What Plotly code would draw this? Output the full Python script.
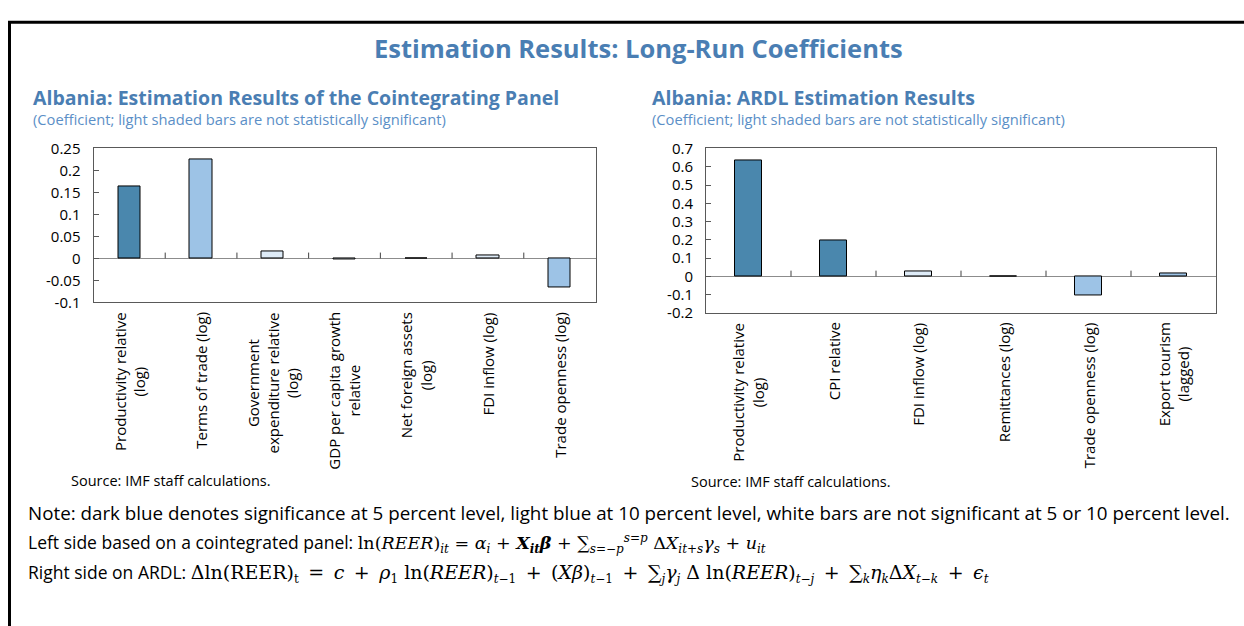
import plotly.graph_objects as go

# ---------------------------------------------------------------- data
left_labels = [
    "Productivity relative<br>(log)",
    "Terms of trade (log)",
    "Government<br>expenditure relative<br>(log)",
    "GDP per capita growth<br>relative",
    "Net foreign assets<br>(log)",
    "FDI inflow (log)",
    "Trade openness (log)",
]
left_values = [0.163, 0.2255, 0.016, -0.002, 0.001, 0.006, -0.065]
left_signif = ["5%", "10%", "none", "none", "none", "none", "10%"]
left_ticks = [-0.1, -0.05, 0, 0.05, 0.1, 0.15, 0.2, 0.25]
left_ticktext = ["-0.1", "-0.05", "0", "0.05", "0.1", "0.15", "0.2", "0.25"]

right_labels = [
    "Productivity relative<br>(log)",
    "CPI relative",
    "FDI inflow (log)",
    "Remittances (log)",
    "Trade openness (log)",
    "Export tourism<br>(lagged)",
]
right_values = [0.636, 0.199, 0.027, 0.0, -0.104, 0.018]
right_signif = ["5%", "5%", "none", "none", "10%", "10%"]
right_ticks = [-0.2, -0.1, 0, 0.1, 0.2, 0.3, 0.4, 0.5, 0.6, 0.7]
right_ticktext = ["-0.2", "-0.1", "0", "0.1", "0.2", "0.3", "0.4", "0.5", "0.6", "0.7"]

# ---------------------------------------------------------------- style
W, H = 1244, 626
FONT = "Open Sans"
TITLE_BLUE = "#4A7EB3"
SUB_BLUE = "#5B8FC7"
SIG_COLORS = {"5%": "#4A87AD", "10%": "#9DC3E6", "none": "#DEEBF7"}


def px(x):
    return x / W


def py(y):
    return 1 - y / H


# plot-area boxes in pixels: (left, top, right, bottom)
LEFT_BOX = (93.5, 142, 595.5, 301)
RIGHT_BOX = (706, 142, 1216, 312)

fig = go.Figure()

fig.add_trace(go.Bar(
    x=left_labels, y=left_values, width=0.31,
    marker=dict(color=[SIG_COLORS[s] for s in left_signif],
                line=dict(color="#000000", width=1)),
    xaxis="x", yaxis="y", showlegend=False, hoverinfo="x+y",
))
fig.add_trace(go.Bar(
    x=right_labels, y=right_values, width=0.32,
    marker=dict(color=[SIG_COLORS[s] for s in right_signif],
                line=dict(color="#000000", width=1)),
    xaxis="x2", yaxis="y2", showlegend=False, hoverinfo="x+y",
))

common_x = dict(
    type="category", showticklabels=False, ticks="", showgrid=False,
    showline=True, mirror=True, linecolor="#595959", linewidth=1,
    zeroline=False, fixedrange=True,
)
common_y = dict(
    showgrid=False, showline=True, mirror=True, linecolor="#595959",
    linewidth=1, ticks="inside", ticklen=5, tickcolor="#595959",
    zeroline=True, zerolinecolor="#8C8C8C", zerolinewidth=1,
    tickfont=dict(family=FONT, size=15, color="#000000"),
    ticklabelstandoff=9, fixedrange=True,
)

fig.update_layout(
    width=W, height=H,
    margin=dict(l=0, r=0, t=0, b=0),
    paper_bgcolor="white", plot_bgcolor="white",
    bargap=0,
    xaxis=dict(common_x, domain=[px(LEFT_BOX[0]), px(LEFT_BOX[2])],
               range=[-0.5, len(left_labels) - 0.5], anchor="y"),
    yaxis=dict(common_y, domain=[py(LEFT_BOX[3]), py(LEFT_BOX[1])],
               range=[left_ticks[0], left_ticks[-1]],
               tickvals=left_ticks, ticktext=left_ticktext, anchor="x"),
    xaxis2=dict(common_x, domain=[px(RIGHT_BOX[0]), px(RIGHT_BOX[2])],
                range=[-0.5, len(right_labels) - 0.5], anchor="y2"),
    yaxis2=dict(common_y, domain=[py(RIGHT_BOX[3]), py(RIGHT_BOX[1])],
                range=[right_ticks[0], right_ticks[-1]],
                tickvals=right_ticks, ticktext=right_ticktext, anchor="x2"),
)

shapes = []


# small upward ticks on the zero line, between categories
def zero_ticks(n, xref, yref, box, yrange):
    unit_per_px = (yrange[1] - yrange[0]) / (box[3] - box[1])
    for i in range(n - 1):
        shapes.append(dict(type="line", xref=xref, yref=yref,
                           x0=i + 0.5, x1=i + 0.5, y0=0, y1=6 * unit_per_px,
                           line=dict(color="#404040", width=1)))


zero_ticks(len(left_labels), "x", "y", LEFT_BOX, (left_ticks[0], left_ticks[-1]))
zero_ticks(len(right_labels), "x2", "y2", RIGHT_BOX, (right_ticks[0], right_ticks[-1]))

# outer frame (left and top edges)
shapes.append(dict(type="line", xref="paper", yref="paper",
                   x0=px(9.5), x1=px(9.5), y0=py(640), y1=py(11.5),
                   line=dict(color="#000000", width=3)))
shapes.append(dict(type="line", xref="paper", yref="paper",
                   x0=px(8), x1=px(1260), y0=py(11.5), y1=py(11.5),
                   line=dict(color="#000000", width=3)))

annotations = []


def text(x, y, s, size, color="#000000", bold=False, xanchor="left", family=FONT):
    annotations.append(dict(
        x=px(x), y=py(y), xref="paper", yref="paper", text=s, showarrow=False,
        xanchor=xanchor, yanchor="middle", align="left",
        font=dict(family=family, size=size, color=color,
                  weight="bold" if bold else "normal"),
    ))


text(638, 38, "Estimation Results: Long-Run Coefficients", 25.5, TITLE_BLUE, True, "center")
text(31, 89, "Albania: Estimation Results of the Cointegrating Panel", 19.5, TITLE_BLUE, True)
text(31, 112, "(Coefficient; light shaded bars are not statistically significant)", 14.7, SUB_BLUE)
text(650, 89, "Albania: ARDL Estimation Results", 19.5, TITLE_BLUE, True)
text(650, 112, "(Coefficient; light shaded bars are not statistically significant)", 14.7, SUB_BLUE)
text(69, 485, "Source: IMF staff calculations.", 14.5)
text(689, 486, "Source: IMF staff calculations.", 14.5)

# rotated category labels under each panel
for labels, xref, box in ((left_labels, "x", LEFT_BOX), (right_labels, "x2", RIGHT_BOX)):
    for lab in labels:
        annotations.append(dict(
            x=lab, xref=xref, y=py(box[3] + 8), yref="paper", text=lab,
            showarrow=False, textangle=-90, xanchor="center", yanchor="top",
            align="center", font=dict(family=FONT, size=15, color="#000000"),
        ))

# notes with the estimated equations
SERIF = "DejaVu Serif"
MS = 17.5          # equation glyphs
MS3 = 19           # equation glyphs on the ARDL line
SS = 12            # sub- and superscript glyphs
GAP = "\u2002"     # gap around operators in the ARDL line


def m(s, size=MS):
    return f'<span style="font-family:{SERIF};font-size:{size}px">{s}</span>'


def mi(s, size=MS):
    return m(f"<i>{s}</i>", size)


def mb(s, size=MS):
    return m(f"<b><i>{s}</i></b>", size)


def sub(*parts):
    return "<sub>" + "".join(parts) + "</sub>"


def sup(*parts):
    return "<sup>" + "".join(parts) + "</sup>"


def op(sym, size=MS3):
    return m(GAP + sym + GAP, size)


note1 = ("Note: dark blue denotes significance at 5 percent level, light blue at 10 percent level, "
         "white bars are not significant at 5 or 10 percent level.")
note2 = ("Left side based on a cointegrated panel: "
         + m("ln(") + mi("REER") + m(")") + sub(mi("it", SS)) + m(" = ")
         + mi("α") + sub(mi("i", SS)) + m(" + ")
         + mb("X") + sub(mb("it", SS)) + mb("β") + m(" + ")
         + m("∑") + sub(mi("s", SS), m("=−", SS), mi("p", SS))
         + sup(mi("s", SS), m("=", SS), mi("p", SS))
         + m(" Δ") + mi("X") + sub(mi("it", SS), m("+", SS), mi("s", SS))
         + mi("γ") + sub(mi("s", SS))
         + m(" + ") + mi("u") + sub(mi("it", SS)))
note3 = ("Right side on ARDL: "
         + m("Δln(REER)", MS3) + sub(m("t", SS)) + op("=") + mi("c", MS3) + op("+")
         + mi("ρ", MS3) + sub(m("1", SS)) + m(" ln(", MS3) + mi("REER", MS3) + m(")", MS3)
         + sub(mi("t", SS), m("−1", SS))
         + op("+") + m("(", MS3) + mi("Xβ", MS3) + m(")", MS3)
         + sub(mi("t", SS), m("−1", SS)) + op("+")
         + m("∑", MS3) + sub(mi("j", SS)) + mi("γ", MS3) + sub(mi("j", SS))
         + m(" Δ ln(", MS3) + mi("REER", MS3) + m(")", MS3)
         + sub(mi("t", SS), m("−", SS), mi("j", SS)) + op("+")
         + m("∑", MS3) + sub(mi("k", SS)) + mi("η", MS3) + sub(mi("k", SS))
         + m("Δ", MS3) + mi("X", MS3)
         + sub(mi("t", SS), m("−", SS), mi("k", SS)) + op("+") + mi("ϵ", MS3)
         + sub(mi("t", SS)))

text(26, 519, note1, 18.8)
text(26, 550, note2, 17.5)
text(26, 581, note3, 17.5)

fig.update_layout(shapes=shapes, annotations=annotations)

fig.write_html("out.html")
